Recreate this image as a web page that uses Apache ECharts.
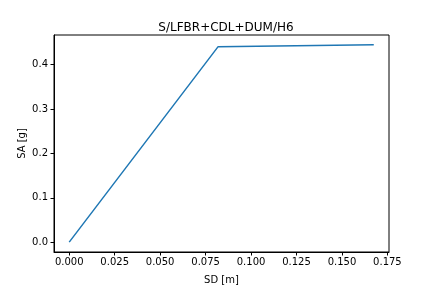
<!DOCTYPE html>
<html>
<head>
<meta charset="utf-8">
<script src="https://cdn.jsdelivr.net/npm/echarts@6/dist/echarts.min.js"></script>
<style>
  html, body { margin: 0; padding: 0; background: #fff; }
  #chart { width: 432px; height: 288px; }
</style>
</head>
<body>
<div id="chart"></div>
<script>
// pushover curve points
const sd = [0.0, 0.0819, 0.1675]
const sa = [0.0, 0.4405, 0.4445]
const xTicks = [0, 0.025, 0.05, 0.075, 0.1, 0.125, 0.15, 0.175]
const yTicks = [0, 0.1, 0.2, 0.3, 0.4]

const font = 'DejaVu Sans'
const chart = echarts.init(document.getElementById('chart'))

// matplotlib style 5% margins around the data
const xSpan = Math.max(...sd) - Math.min(...sd)
const ySpan = Math.max(...sa) - Math.min(...sa)

const option = {
  animation: false,
  backgroundColor: '#fff',
  title: {
    text: 'S/LFBR+CDL+DUM/H6',
    left: 221,
    top: 17,
    textAlign: 'center',
    textStyle: { fontFamily: font, fontSize: 12, fontWeight: 'normal', color: '#000' }
  },
  grid: {
    left: 54,
    right: 43,
    top: 35,
    bottom: 36,
    outerBoundsMode: 'none',
    show: true,
    borderColor: '#000',
    borderWidth: 1
  },
  xAxis: {
    type: 'value',
    min: Math.min(...sd) - xSpan * 0.05,
    max: Math.max(...sd) + xSpan * 0.05,
    name: 'SD [m]',
    nameLocation: 'middle',
    nameGap: 23,
    nameMoveOverlap: false,
    nameTextStyle: { fontFamily: font, fontSize: 10, color: '#000' },
    splitLine: { show: false },
    axisLine: { onZero: false, lineStyle: { color: '#000', width: 1 } },
    axisTick: { length: 3.5, lineStyle: { color: '#000' }, customValues: xTicks },
    axisLabel: {
      fontFamily: font, fontSize: 10, color: '#000', margin: 5,
      customValues: xTicks,
      formatter: v => v.toFixed(3)
    }
  },
  yAxis: {
    type: 'value',
    min: Math.min(...sa) - ySpan * 0.05,
    max: Math.max(...sa) + ySpan * 0.05,
    name: 'SA [g]',
    nameLocation: 'middle',
    nameGap: 27,
    nameMoveOverlap: false,
    nameTextStyle: { fontFamily: font, fontSize: 10, color: '#000' },
    splitLine: { show: false },
    axisLine: { onZero: false, lineStyle: { color: '#000', width: 1 } },
    axisTick: { length: 3.5, lineStyle: { color: '#000' }, customValues: yTicks },
    axisLabel: {
      fontFamily: font, fontSize: 10, color: '#000', margin: 6,
      customValues: yTicks,
      formatter: v => v.toFixed(1)
    }
  },
  series: [
    {
      type: 'line',
      data: sd.map((x, i) => [x, sa[i]]),
      showSymbol: false,
      lineStyle: { color: '#1f77b4', width: 1.5 }
    }
  ]
}
chart.setOption(option)
</script>
</body>
</html>
